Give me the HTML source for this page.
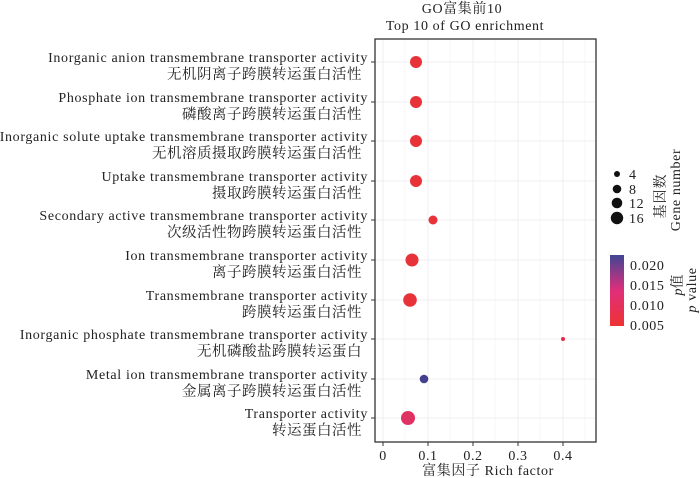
<!DOCTYPE html>
<html><head><meta charset="utf-8"><style>
body{margin:0;background:#fff;}
svg{display:block;font-family:"Liberation Serif","Noto Serif CJK SC",serif;}
</style></head><body>
<svg width="700" height="478" viewBox="0 0 700 478">
<rect width="700" height="478" fill="#fff"/>
<text x="462" y="13" font-size="14" letter-spacing="0.6" text-anchor="middle" fill="#222">GO富集前10</text>
<text x="465" y="30" font-size="14" letter-spacing="0.6" text-anchor="middle" fill="#222">Top 10 of  GO enrichment</text>
<g stroke="#f1eef0" stroke-width="1">
<line x1="383" y1="39" x2="383" y2="442"/><line x1="428" y1="39" x2="428" y2="442"/><line x1="473" y1="39" x2="473" y2="442"/><line x1="518" y1="39" x2="518" y2="442"/><line x1="563" y1="39" x2="563" y2="442"/>
<line x1="405" y1="39" x2="405" y2="442" stroke="#f8f6f7"/><line x1="450" y1="39" x2="450" y2="442" stroke="#f8f6f7"/><line x1="495" y1="39" x2="495" y2="442" stroke="#f8f6f7"/><line x1="540" y1="39" x2="540" y2="442" stroke="#f8f6f7"/><line x1="585" y1="39" x2="585" y2="442" stroke="#f8f6f7"/>
<line x1="375" y1="62" x2="596" y2="62"/><line x1="375" y1="102" x2="596" y2="102"/><line x1="375" y1="141" x2="596" y2="141"/><line x1="375" y1="181" x2="596" y2="181"/><line x1="375" y1="220" x2="596" y2="220"/><line x1="375" y1="260" x2="596" y2="260"/><line x1="375" y1="300" x2="596" y2="300"/><line x1="375" y1="339" x2="596" y2="339"/><line x1="375" y1="379" x2="596" y2="379"/><line x1="375" y1="418" x2="596" y2="418"/>
</g>
<rect x="375" y="39" width="221" height="403" fill="none" stroke="#333" stroke-width="1.3"/>
<g fill="#e8323a">
<circle cx="416" cy="62" r="6"/><circle cx="416" cy="102" r="6"/><circle cx="416" cy="141" r="6"/><circle cx="416" cy="181" r="6"/>
<circle cx="433" cy="220" r="4.5"/><circle cx="412" cy="260" r="6.5"/><circle cx="410" cy="300" r="6.8"/><circle cx="563" cy="339" r="2" fill="#e62a45"/>
<circle cx="424" cy="379" r="4.3" fill="#443f8f"/><circle cx="408" cy="418" r="7" fill="#df3263"/>
</g>
<g stroke="#333"><line x1="371" y1="62" x2="375" y2="62"/><line x1="371" y1="102" x2="375" y2="102"/><line x1="371" y1="141" x2="375" y2="141"/><line x1="371" y1="181" x2="375" y2="181"/><line x1="371" y1="220" x2="375" y2="220"/><line x1="371" y1="260" x2="375" y2="260"/><line x1="371" y1="300" x2="375" y2="300"/><line x1="371" y1="339" x2="375" y2="339"/><line x1="371" y1="379" x2="375" y2="379"/><line x1="371" y1="418" x2="375" y2="418"/>
<line x1="383" y1="442" x2="383" y2="446"/><line x1="428" y1="442" x2="428" y2="446"/><line x1="473" y1="442" x2="473" y2="446"/><line x1="518" y1="442" x2="518" y2="446"/><line x1="563" y1="442" x2="563" y2="446"/></g>
<g font-size="14" letter-spacing="0.65" fill="#222" text-anchor="end">
<text x="368" y="62">Inorganic anion transmembrane transporter activity</text>
<text x="362" y="79" font-size="14.5" letter-spacing="0.5">无机阴离子跨膜转运蛋白活性</text>
<text x="368" y="102">Phosphate ion transmembrane transporter activity</text>
<text x="362" y="119" font-size="14.5" letter-spacing="0.5">磷酸离子跨膜转运蛋白活性</text>
<text x="368" y="141">Inorganic solute uptake transmembrane transporter activity</text>
<text x="362" y="158" font-size="14.5" letter-spacing="0.5">无机溶质摄取跨膜转运蛋白活性</text>
<text x="368" y="181">Uptake transmembrane  transporter activity</text>
<text x="362" y="198" font-size="14.5" letter-spacing="0.5">摄取跨膜转运蛋白活性</text>
<text x="368" y="220">Secondary active transmembrane transporter activity</text>
<text x="362" y="237" font-size="14.5" letter-spacing="0.5">次级活性物跨膜转运蛋白活性</text>
<text x="368" y="260">Ion transmembrane transporter activity</text>
<text x="362" y="277" font-size="14.5" letter-spacing="0.5">离子跨膜转运蛋白活性</text>
<text x="368" y="300">Transmembrane transporter activity</text>
<text x="362" y="317" font-size="14.5" letter-spacing="0.5">跨膜转运蛋白活性</text>
<text x="368" y="339">Inorganic phosphate transmembrane transporter activity</text>
<text x="362" y="356" font-size="14.5" letter-spacing="0.5">无机磷酸盐跨膜转运蛋白</text>
<text x="368" y="379">Metal ion transmembrane transporter activity</text>
<text x="362" y="396" font-size="14.5" letter-spacing="0.5">金属离子跨膜转运蛋白活性</text>
<text x="368" y="418">Transporter activity</text>
<text x="362" y="435" font-size="14.5" letter-spacing="0.5">转运蛋白活性</text>
</g>
<g font-size="14" letter-spacing="0.6" fill="#222" text-anchor="middle">
<text x="383" y="460">0</text><text x="428" y="460">0.1</text><text x="473" y="460">0.2</text><text x="518" y="460">0.3</text><text x="563" y="460">0.4</text>
<text x="488" y="475">富集因子 Rich factor</text>
</g>
<g fill="#111"><circle cx="617" cy="174" r="3"/><circle cx="617" cy="189" r="4.3"/><circle cx="617" cy="203" r="5.3"/><circle cx="617" cy="218" r="6.2"/></g>
<g font-size="14" letter-spacing="0.6" fill="#222"><text x="629" y="179">4</text><text x="629" y="194">8</text><text x="629" y="208">12</text><text x="629" y="223">16</text></g>
<text transform="translate(665,196) rotate(-90)" font-size="14" letter-spacing="1" text-anchor="middle" fill="#222">基因数</text>
<text transform="translate(680,190) rotate(-90)" font-size="14" letter-spacing="0.6" text-anchor="middle" fill="#222">Gene number</text>
<defs><linearGradient id="g" x1="0" y1="1" x2="0" y2="0"><stop offset="0" stop-color="#ee3333"/><stop offset="0.5" stop-color="#e02e7a"/><stop offset="1" stop-color="#3f4694"/></linearGradient></defs>
<rect x="610" y="255" width="14" height="71" fill="url(#g)"/>
<g font-size="14" letter-spacing="0.6" fill="#222"><text x="630" y="270">0.020</text><text x="630" y="290">0.015</text><text x="630" y="310">0.010</text><text x="630" y="330">0.005</text></g>
<text transform="translate(682,285) rotate(-90)" font-size="14" text-anchor="middle" fill="#222"><tspan font-style="italic">p</tspan>值</text>
<text transform="translate(696,290) rotate(-90)" font-size="14" letter-spacing="0.6" text-anchor="middle" fill="#222"><tspan font-style="italic">p</tspan> value</text>
</svg>
</body></html>
